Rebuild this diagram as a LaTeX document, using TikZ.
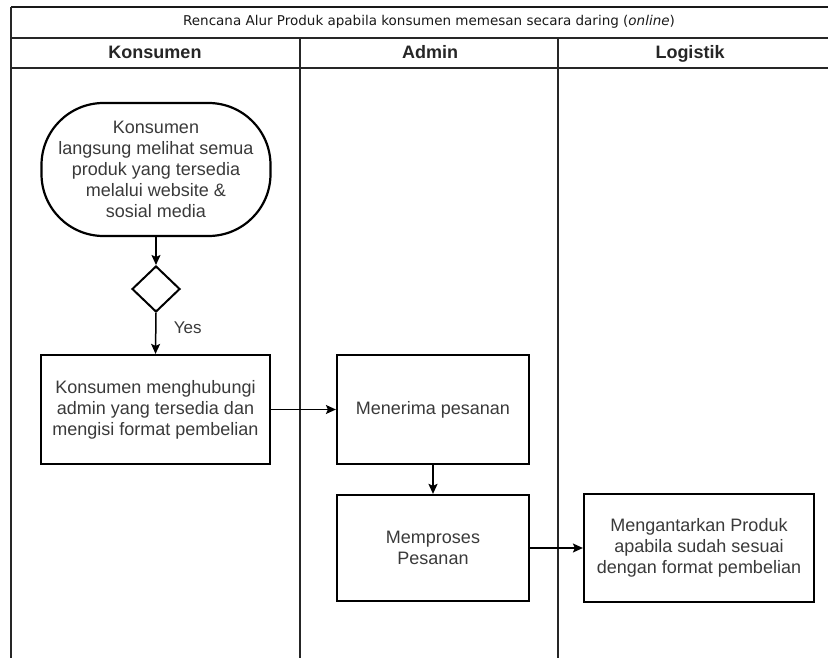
\documentclass[tikz,border=0pt]{standalone}
\usepackage{fontspec}
\setmainfont{Liberation Sans}
\newfontfamily\titlefont{DejaVu Sans}
\usetikzlibrary{arrows.meta,shapes.geometric}
\definecolor{txtgray}{HTML}{3A3A3A}
\tikzset{
  lane/.style={line width=1.3pt, draw=black!85},
  frameline/.style={line width=2pt, draw=black!90},
  procbox/.style={draw=black, line width=2.2pt, fill=white, minimum width=229pt, minimum height=109pt, inner sep=0pt, align=center, text=txtgray, font=\fontsize{18}{21}\selectfont},
  term/.style={procbox, rounded corners=62pt, minimum width=229pt, minimum height=133pt},
  decision/.style={draw=black, line width=2pt, diamond, fill=white, minimum width=48pt, minimum height=46pt, inner sep=0pt, aspect=1},
  flow/.style={draw=black, line width=1.5pt, -{Stealth[length=10pt,width=9pt,inset=2pt]}},
  header/.style={font=\fontsize{18}{20}\selectfont\bfseries, text=black!85, anchor=base},
  titletext/.style={font=\titlefont\fontsize{13.5}{15}\selectfont, text=black!90},
  lbl/.style={text=txtgray, font=\fontsize{17}{20}\selectfont}
}
\begin{document}
\begin{tikzpicture}[x=1pt,y=-1pt]
\useasboundingbox (0,0) rectangle (828,658);
\fill[white] (0,0) rectangle (828,658);
% frame and lanes
\draw[frameline] (11,7) -- (828,7);
\draw[lane] (11,38) -- (828,38);
\draw[lane] (11,68) -- (828,68);
\draw[lane] (11,7) -- (11,658);
\draw[lane] (300,38) -- (300,658);
\draw[lane] (558,38) -- (558,658);
\node[titletext] (title) at (429,22) {Rencana Alur Produk apabila konsumen memesan secara daring (\textit{online})};
\node[header] (hk) at (155,59) {Konsumen};
\node[header] (ha) at (430,59) {Admin};
\node[header] (hl) at (690,59) {Logistik};
% nodes
\node[term] (start) at (156,169.5) {Konsumen\\langsung melihat semua\\produk yang tersedia\\melalui website \&\\sosial media};
\node[decision] (dec) at (156,289) {};
\node[procbox] (b1) at (155.5,409.5) {Konsumen menghubungi\\admin yang tersedia dan\\mengisi format pembelian};
\node[procbox, minimum width=192pt] (b2) at (433,409.5) {Menerima pesanan};
\node[procbox, minimum width=192pt, minimum height=106pt] (b3) at (433,548) {Memproses\\Pesanan};
\node[procbox, minimum width=230pt, minimum height=108pt] (b4) at (699,548) {Mengantarkan Produk\\apabila sudah sesuai\\dengan format pembelian};
% connectors
\draw[flow] (start.south) -- (dec.north);
\draw[flow] (dec.south) -- node[lbl, right=14pt, pos=0.35] (yes) {Yes} (b1.north);
\draw[flow] (b1.east) -- (b2.west);
\draw[flow, line width=2pt] (b2.south) -- (b3.north);
\draw[flow] (b3.east) -- (b4.west);
\end{tikzpicture}
\end{document}
